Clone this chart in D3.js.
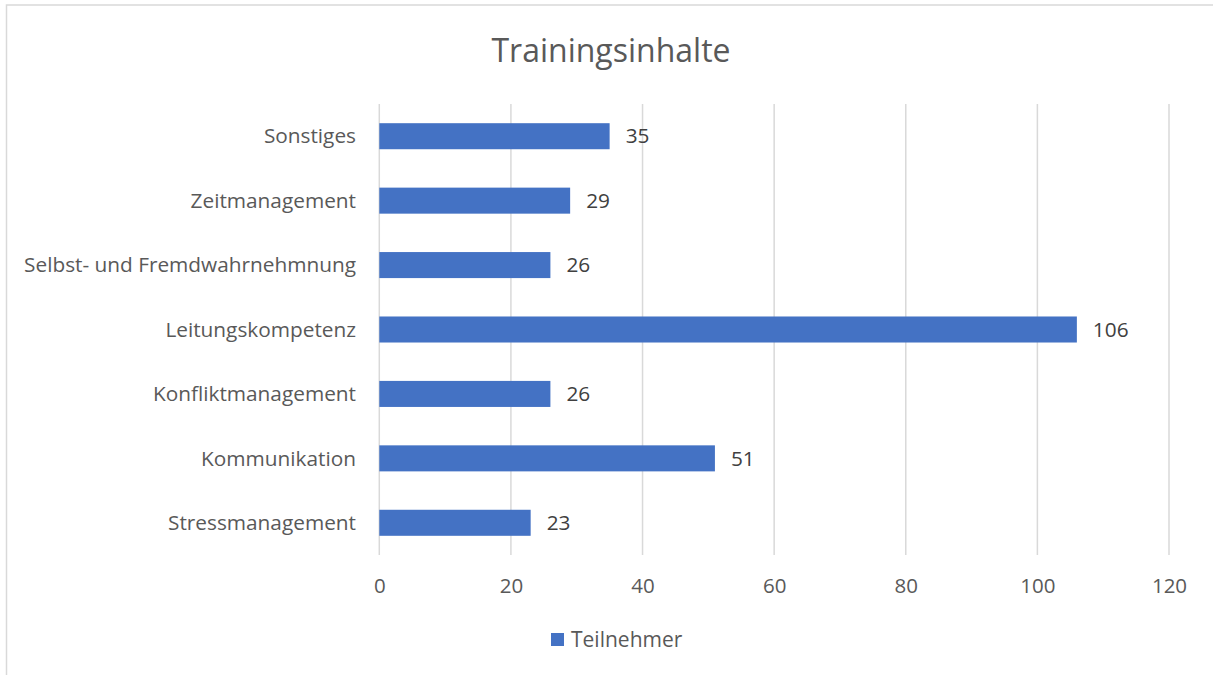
<!DOCTYPE html>
<html lang="de">
<head>
<meta charset="utf-8">
<title>Trainingsinhalte</title>
<script src="https://cdn.jsdelivr.net/npm/d3@7"></script>
<style>
  html, body { margin: 0; padding: 0; background: #fff; }
  svg { display: block; font-family: "Open Sans", sans-serif; }
</style>
</head>
<body>
<div id="chart"></div>
<script>
// data, top to bottom as shown
var categories = ["Sonstiges", "Zeitmanagement", "Selbst- und Fremdwahrnehmnung",
                  "Leitungskompetenz", "Konfliktmanagement", "Kommunikation", "Stressmanagement"];
var teilnehmer = [35, 29, 26, 106, 26, 51, 23];
var xTicks = [0, 20, 40, 60, 80, 100, 120];
var seriesName = "Teilnehmer";
var chartTitle = "Trainingsinhalte";

var w = 1213, h = 675;
var plot = {left: 379.3, right: 1169, top: 104, bottom: 555};
var font = "'Open Sans', sans-serif";

var svg = d3.select("#chart").append("svg")
  .attr("width", w)
  .attr("height", h);

svg.append("rect")
  .attr("width", w).attr("height", h)
  .attr("fill", "#fff");

// chart frame (runs past right/bottom edge)
svg.append("rect")
  .attr("x", 6.5).attr("y", 5)
  .attr("width", w + 10).attr("height", h + 10)
  .attr("fill", "none")
  .attr("stroke", "#d9d9d9")
  .attr("stroke-width", 1.5);

var xScale = d3.scaleLinear()
  .domain([0, 120])
  .range([plot.left, plot.right]);

var yScale = d3.scaleBand()
  .domain(categories)
  .range([plot.top, plot.bottom])
  .paddingInner(0.596)
  .paddingOuter(0.298);

// gridlines
svg.append("g").selectAll("line")
  .data(xTicks)
  .enter()
  .append("line")
  .attr("x1", function(d) { return xScale(d); })
  .attr("x2", function(d) { return xScale(d); })
  .attr("y1", plot.top)
  .attr("y2", plot.bottom)
  .attr("stroke", "#d9d9d9")
  .attr("stroke-width", 1.5);

// x axis labels
var xAxis = d3.axisBottom(xScale)
  .tickValues(xTicks)
  .tickSize(0)
  .tickPadding(0);
var gx = svg.append("g")
  .attr("transform", "translate(0," + 586 + ")")
  .call(xAxis);
gx.select(".domain").remove();
gx.selectAll("text")
  .attr("dy", "0.35em")
  .attr("font-family", font)
  .attr("font-size", "20.5px")
  .attr("fill", "#595959");

// y axis labels
var yAxis = d3.axisLeft(yScale).tickSize(0).tickPadding(0);
var gy = svg.append("g")
  .attr("transform", "translate(" + 356 + ",0)")
  .call(yAxis);
gy.select(".domain").remove();
gy.selectAll("text")
  .attr("dy", "0.35em")
  .attr("font-family", font)
  .attr("font-size", "20.8px")
  .attr("fill", "#595959");

// bars
svg.append("g").selectAll("rect")
  .data(teilnehmer)
  .enter()
  .append("rect")
  .attr("x", xScale(0))
  .attr("y", function(d, i) { return yScale(categories[i]); })
  .attr("width", function(d) { return xScale(d) - xScale(0); })
  .attr("height", yScale.bandwidth())
  .attr("fill", "#4472c4");

// value labels
svg.append("g").selectAll("text")
  .data(teilnehmer)
  .enter()
  .append("text")
  .text(function(d) { return d; })
  .attr("x", function(d) { return xScale(d) + 16; })
  .attr("y", function(d, i) { return yScale(categories[i]) + yScale.bandwidth() / 2; })
  .attr("dy", "0.35em")
  .attr("font-size", "20.8px")
  .attr("fill", "#404040");

// title
svg.append("text")
  .text(chartTitle)
  .attr("x", 611)
  .attr("y", 62)
  .attr("text-anchor", "middle")
  .attr("font-size", "32px")
  .attr("fill", "#595959");

// legend
svg.append("rect")
  .attr("x", 551).attr("y", 633)
  .attr("width", 13).attr("height", 13)
  .attr("fill", "#4472c4");
svg.append("text")
  .text(seriesName)
  .attr("x", 571)
  .attr("y", 640)
  .attr("dy", "0.35em")
  .attr("font-size", "21px")
  .attr("fill", "#595959");
</script>
</body>
</html>
